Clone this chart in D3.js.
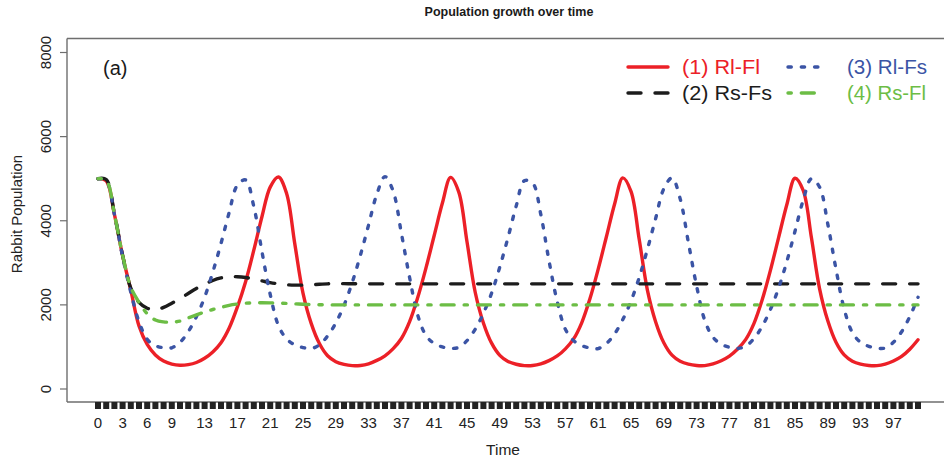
<!DOCTYPE html>
<html>
<head>
<meta charset="utf-8">
<script src="https://cdn.jsdelivr.net/npm/d3@7/dist/d3.min.js"></script>
<style>
  html, body { margin: 0; padding: 0; background: #fff; }
  svg { display: block; font-family: "Liberation Sans", Arial, sans-serif; }
</style>
</head>
<body>
<svg id="chart" width="944" height="463"></svg>
<script>
// Time steps 0..100
const times = d3.range(0, 101);

// (1) Rl-Fl
const seriesRlFl = [
  5000, 4950, 4150, 3170, 2350, 1500, 1060, 810, 665, 592,
  565, 580, 630, 730, 880, 1100, 1450, 1950, 2550, 3300,
  4100, 4800, 5040, 4650, 3450, 2280, 1560, 1080, 790, 650,
  585, 555, 560, 600, 680, 790, 960, 1200, 1600, 2180,
  2880, 3650, 4420, 5030, 4680, 3500, 2300, 1570, 1090, 800,
  655, 588, 556, 558, 598, 675, 785, 955, 1190, 1580,
  2150, 2850, 3620, 4400, 5020, 4700, 3560, 2350, 1600, 1100,
  805, 660, 590, 558, 556, 595, 670, 780, 950, 1180,
  1560, 2120, 2820, 3600, 4380, 5010, 4720, 3600, 2380, 1620,
  1110, 810, 662, 592, 560, 556, 592, 665, 775, 945,
  1170
];

// (2) Rs-Fs
const seriesRsFs = [
  5000, 4980, 4170, 3180, 2400, 2060, 1920, 1880, 1940, 2040,
  2150, 2270, 2390, 2490, 2580, 2640, 2670, 2670, 2650, 2610,
  2570, 2530, 2500, 2480, 2470, 2470, 2480, 2490, 2500, 2505,
  2505, 2502, 2500, 2500, 2500, 2500, 2500, 2500, 2500, 2500,
  2500, 2500, 2500, 2500, 2500, 2500, 2500, 2500, 2500, 2500,
  2500, 2500, 2500, 2500, 2500, 2500, 2500, 2500, 2500, 2500,
  2500, 2500, 2500, 2500, 2500, 2500, 2500, 2500, 2500, 2500,
  2500, 2500, 2500, 2500, 2500, 2500, 2500, 2500, 2500, 2500,
  2500, 2500, 2500, 2500, 2500, 2500, 2500, 2500, 2500, 2500,
  2500, 2500, 2500, 2500, 2500, 2500, 2500, 2500, 2500, 2500,
  2500
];

// (3) Rl-Fs
const seriesRlFs = [
  5000, 4950, 4150, 3150, 2300, 1600, 1180, 1030, 980, 980,
  1110, 1360, 1720, 2180, 2780, 3460, 4200, 4850, 4970, 4340,
  3260, 2250, 1510, 1190, 1050, 985, 960, 1050, 1260, 1570,
  1990, 2530, 3180, 3900, 4630, 5050, 4700, 3700, 2650, 1750,
  1270, 1080, 1000, 965, 990, 1150, 1420, 1800, 2280, 2900,
  3600, 4350, 4950, 4900, 4150, 3050, 2080, 1420, 1150, 1030,
  975, 962, 1080, 1310, 1650, 2090, 2650, 3320, 4050, 4760,
  5020, 4520, 3480, 2450, 1630, 1230, 1065, 992, 963, 1020,
  1200, 1490, 1890, 2400, 3030, 3750, 4490, 5000, 4800, 3920,
  2850, 1900, 1340, 1110, 1015, 970, 975, 1110, 1360, 1720,
  2180
];

// (4) Rs-Fl
const seriesRsFl = [
  5000, 4960, 4160, 3180, 2420, 2060, 1790, 1640, 1595, 1590,
  1615, 1690, 1760, 1830, 1890, 1940, 1990, 2020, 2040, 2048,
  2050, 2048, 2042, 2035, 2025, 2015, 2008, 2003, 2000, 2000,
  2000, 2000, 2000, 2000, 2000, 2000, 2000, 2000, 2000, 2000,
  2000, 2000, 2000, 2000, 2000, 2000, 2000, 2000, 2000, 2000,
  2000, 2000, 2000, 2000, 2000, 2000, 2000, 2000, 2000, 2000,
  2000, 2000, 2000, 2000, 2000, 2000, 2000, 2000, 2000, 2000,
  2000, 2000, 2000, 2000, 2000, 2000, 2000, 2000, 2000, 2000,
  2000, 2000, 2000, 2000, 2000, 2000, 2000, 2000, 2000, 2000,
  2000, 2000, 2000, 2000, 2000, 2000, 2000, 2000, 2000, 2000,
  2000
];

const seriesNames = ["(1) Rl-Fl", "(2) Rs-Fs", "(3) Rl-Fs", "(4) Rs-Fl"];
const seriesColors = ["#ec2027", "#1c1c1c", "#3b54a5", "#6cbd45"];
const seriesDashes = [null, "13 14", "3.3 10", "3.3 10 13 10"];
const xTickLabels = [0, 3, 6, 9, 13, 17, 21, 25, 29, 33, 37, 41, 45, 49, 53, 57, 61, 65, 69, 73, 77, 81, 85, 89, 93, 97];
const yTicks = [0, 2000, 4000, 6000, 8000];

const allSeries = [seriesRlFl, seriesRsFs, seriesRlFs, seriesRsFl];

const svg = d3.select("#chart");
const x = d3.scaleLinear().domain([0, 100]).range([98, 918]);
const y = d3.scaleLinear().domain([0, 8000]).range([389, 52.5]);

// Title
svg.append("text")
  .attr("x", 509).attr("y", 16)
  .attr("text-anchor", "middle")
  .attr("font-size", 12.5).attr("font-weight", "bold")
  .attr("fill", "#1a1a1a")
  .text("Population growth over time");

// Plot frame (right edge lies outside the view)
const frame = svg.append("g").attr("fill", "none").attr("stroke", "#6e6e6e").attr("stroke-width", 1.4);
frame.append("line").attr("x1", 67).attr("x2", 67).attr("y1", 38.5).attr("y2", 402);
frame.append("line").attr("x1", 67).attr("x2", 944).attr("y1", 38.5).attr("y2", 38.5);
frame.append("line").attr("x1", 67).attr("x2", 944).attr("y1", 402).attr("y2", 402);

// Y axis
const yAxis = svg.append("g");
yAxis.selectAll("line").data(yTicks).join("line")
  .attr("x1", 60).attr("x2", 67)
  .attr("y1", d => y(d)).attr("y2", d => y(d))
  .attr("stroke", "#6e6e6e").attr("stroke-width", 1.2);
yAxis.selectAll("text").data(yTicks).join("text")
  .attr("transform", d => `translate(51,${y(d)}) rotate(-90)`)
  .attr("text-anchor", "middle")
  .attr("font-size", 15).attr("fill", "#222")
  .text(d => d);
svg.append("text")
  .attr("transform", "translate(22,214) rotate(-90)")
  .attr("text-anchor", "middle")
  .attr("font-size", 15).attr("fill", "#222")
  .text("Rabbit Population");

// X axis: a tick at every time step, labels where they fit
svg.append("g").selectAll("line").data(times).join("line")
  .attr("x1", d => x(d)).attr("x2", d => x(d))
  .attr("y1", 402).attr("y2", 409)
  .attr("stroke", "#232323").attr("stroke-width", 6);
svg.append("g").selectAll("text").data(xTickLabels).join("text")
  .attr("x", d => x(d)).attr("y", 428)
  .attr("text-anchor", "middle")
  .attr("font-size", 15).attr("fill", "#222")
  .text(d => d);
svg.append("text")
  .attr("x", 503).attr("y", 455)
  .attr("text-anchor", "middle")
  .attr("font-size", 15.5).attr("fill", "#222")
  .text("Time");

// Series lines
const line = d3.line()
  .x((d, i) => x(times[i]))
  .y(d => y(d))
  .curve(d3.curveCatmullRom.alpha(0.5));

allSeries.forEach((vals, k) => {
  const p = svg.append("path")
    .datum(vals)
    .attr("d", line)
    .attr("fill", "none")
    .attr("stroke", seriesColors[k])
    .attr("stroke-width", 3.4)
    .attr("stroke-linecap", "round")
    .attr("stroke-linejoin", "round");
  if (seriesDashes[k]) p.attr("stroke-dasharray", seriesDashes[k]);
});

// Panel tag
svg.append("text")
  .attr("x", 103).attr("y", 75)
  .attr("font-size", 20).attr("fill", "#1a1a1a")
  .text("(a)");

// Legend: two columns, two rows
const legendPos = [
  { lx: 628, tx: 682, ly: 67, w: 78 },
  { lx: 628, tx: 682, ly: 93, w: 90 },
  { lx: 788, tx: 847, ly: 67, w: 80 },
  { lx: 788, tx: 847, ly: 93, w: 79 }
];
const legend = svg.append("g");
seriesNames.forEach((name, k) => {
  const pos = legendPos[k];
  const len = k < 2 ? 40 : 35;
  const l = legend.append("line")
    .attr("x1", pos.lx).attr("x2", pos.lx + len)
    .attr("y1", pos.ly).attr("y2", pos.ly)
    .attr("stroke", seriesColors[k])
    .attr("stroke-width", 3.4)
    .attr("stroke-linecap", "round");
  if (seriesDashes[k]) l.attr("stroke-dasharray", seriesDashes[k]);
  legend.append("text")
    .attr("x", pos.tx).attr("y", pos.ly + 7)
    .attr("font-size", 20)
    .attr("textLength", pos.w)
    .attr("lengthAdjust", "spacingAndGlyphs")
    .attr("fill", seriesColors[k])
    .text(name);
});
</script>
</body>
</html>
